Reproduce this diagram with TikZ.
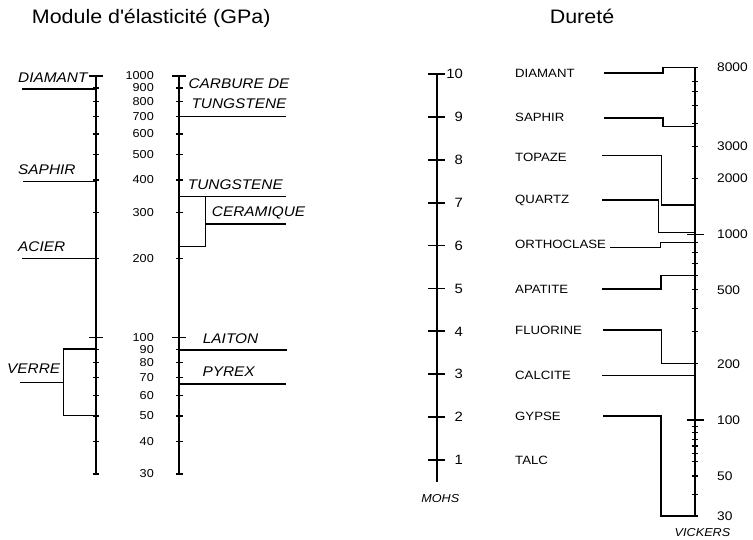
\documentclass[tikz,border=0pt]{standalone}
\usepackage{fontspec}
\setmainfont[FakeStretch=1.1]{Liberation Sans}
\begin{document}
\begin{tikzpicture}[x=1pt,y=-1pt,
    axe/.style={line width=1.8pt},
    trait/.style={line width=1.4pt},
    titre/.style={font=\fontsize{19.5}{22}\selectfont,inner sep=0},
    num/.style={font=\fontsize{11.5}{13}\selectfont,inner sep=0},
    mat/.style={font=\fontsize{14}{20}\selectfont\itshape,inner sep=0},
    mohsnum/.style={font=\fontsize{13.5}{15}\selectfont,inner sep=0},
    vicknum/.style={font=\fontsize{12.5}{14}\selectfont,inner sep=0},
    minerai/.style={font=\fontsize{12}{14}\selectfont,inner sep=0,anchor=west},
    echelle/.style={font=\fontsize{11.5}{13}\selectfont\itshape,inner sep=0}]
  \useasboundingbox (0,0) rectangle (753,540);

  % titres
  \node[titre,anchor=base west] (titreA) at (31.7,23.3) {Module d\textquotesingle élasticité (GPa)};
  \node[titre,anchor=base] (titreB) at (582,23.3) {Dureté};

  % module d'elasticite : deux axes log
  \coordinate (axeA) at (96,76);
  \coordinate (axeB) at (179.3,76);
  \draw[axe] (axeA) -- (96,{76+261.3*(3-log10(30))});
  \draw[axe] (axeB) -- (179.3,{76+261.3*(3-log10(30))});
  \foreach \v in {30,40,...,90,200,300,...,900} {
    \draw[trait] (92.7,{76+261.3*(3-log10(\v))}) -- (99.3,{76+261.3*(3-log10(\v))});
    \draw[trait] (176,{76+261.3*(3-log10(\v))}) -- (182.6,{76+261.3*(3-log10(\v))});
  }
  \foreach \v in {100,1000} {
    \draw[trait] (89,{76+261.3*(3-log10(\v))}) -- (103,{76+261.3*(3-log10(\v))});
    \draw[trait] (172.3,{76+261.3*(3-log10(\v))}) -- (186.3,{76+261.3*(3-log10(\v))});
  }
  \foreach \v in {30,40,...,100,200,300,...,1000}
    \node[num,anchor=east] at (154,{76+261.3*(3-log10(\v))}) {\v};

  % materiaux a gauche
  \node[mat,anchor=west] (diamant) at (18,78) {DIAMANT};
  \coordinate (diamant-s) at (22,89);
  \draw[trait] (diamant-s) -- (diamant-s -| axeA);
  \node[mat,anchor=west] (saphir) at (18,169.3) {SAPHIR};
  \coordinate (saphir-s) at (23,181.5);
  \draw[trait] (saphir-s) -- (saphir-s -| axeA);
  \node[mat,anchor=west] (acier) at (18,246.7) {ACIER};
  \coordinate (acier-s) at (22,258.7);
  \draw[trait] (acier-s) -- (acier-s -| axeA);
  \node[mat,anchor=west] (verre) at (7,368.3) {VERRE};
  \coordinate (verre-s) at (20,382.7);
  \coordinate (verre-k) at (63.7,382.7);
  \coordinate (verre-h) at (96,349);
  \coordinate (verre-b) at (96,415.3);
  \draw[trait] (verre-h) -| (verre-k) |- (verre-b);
  \draw[trait] (verre-s) -- (verre-k);

  % materiaux a droite
  \node[mat,align=center] (carbure) at (239,93.3) {CARBURE DE\\TUNGSTENE};
  \coordinate (carbure-s) at (286,116.7);
  \draw[trait] (carbure-s) -- (carbure-s -| axeB);
  \node[mat,anchor=west] (tungstene) at (187.7,185) {TUNGSTENE};
  \coordinate (tungstene-s) at (286,196.7);
  \draw[trait] (tungstene-s) -- (tungstene-s -| axeB);
  \node[mat,anchor=west] (ceramique) at (211.7,212.7) {CERAMIQUE};
  \coordinate (ceram-s) at (286,224);
  \coordinate (ceram-k) at (205.3,224);
  \coordinate (ceram-h) at (205.3,196.7);
  \coordinate (ceram-b) at (179.3,246.7);
  \draw[trait] (ceram-b) -| (ceram-h);
  \draw[trait] (ceram-s) -- (ceram-k);
  \node[mat,anchor=west] (laiton) at (202.7,339) {LAITON};
  \coordinate (laiton-s) at (287.3,350);
  \draw[trait] (laiton-s) -- (laiton-s -| axeB);
  \node[mat,anchor=west] (pyrex) at (202.3,371.7) {PYREX};
  \coordinate (pyrex-s) at (286,384);
  \draw[trait] (pyrex-s) -- (pyrex-s -| axeB);

  % durete : echelle de Mohs
  \coordinate (mohs) at (436.7,73.3);
  \draw[axe] (mohs) -- (436.7,481.7);
  \foreach \n in {1,...,10} {
    \draw[axe] (428.3,{74+(10-\n)*42.9}) -- (445,{74+(10-\n)*42.9});
    \node[mohsnum,anchor=east] at (463,{74+(10-\n)*42.9}) {\n};
  }
  \node[echelle] (mohs-t) at (440.3,498.3) {MOHS};

  % echelle de Vickers
  \coordinate (vick) at (695,67.3);
  \draw[axe] (vick) -- (695,516);
  \foreach \y in {67.3,81.7,91.7,105.7,123.3,146.7,178.3,242.7,252.3,263.3,275.7,289.3,308.3,331.7,363.3,426.7,432.7,439.3,446,453.3,461.7,476,494.3,516}
    \draw[trait] (691.7,\y) -- (698.3,\y);
  \foreach \y in {234.3,420}
    \draw[trait] (687,\y) -- (704,\y);
  \foreach \v/\y in {8000/67,3000/146,2000/178,1000/234,500/290,200/364,100/420,50/476,30/516}
    \node[vicknum,anchor=west] at (717,\y) {\v};
  \node[echelle] (vick-t) at (702.5,532.3) {VICKERS};

  % mineraux
  \foreach \n/\nom/\y in {10/DIAMANT/73.5,9/SAPHIR/117,8/TOPAZE/157,7/QUARTZ/200,6/ORTHOCLASE/244,5/APATITE/289,4/FLUORINE/330,3/CALCITE/375,2/GYPSE/416,1/TALC/460}
    \node[minerai] (m\n) at (515,\y) {\nom};

  % liaisons Mohs - Vickers
  \foreach \n/\xs/\ys/\xk/\ye in {10/604/73/663/67.3,9/604/118/663/126.5,8/602/155.5/661.3/205,7/602/200/658.7/232.7,6/610/247.5/660.7/242.3,5/602/289/661/275.3,4/603/330/661.7/363.3,3/602/375.3/661/375.3,2/603/416/661/516} {
    \coordinate (s\n) at (\xs,\ys);
    \coordinate (k\n) at (\xk,\ye);
    \draw[trait] (s\n) -| (k\n) -- (k\n -| vick);
  }
\end{tikzpicture}
\end{document}
